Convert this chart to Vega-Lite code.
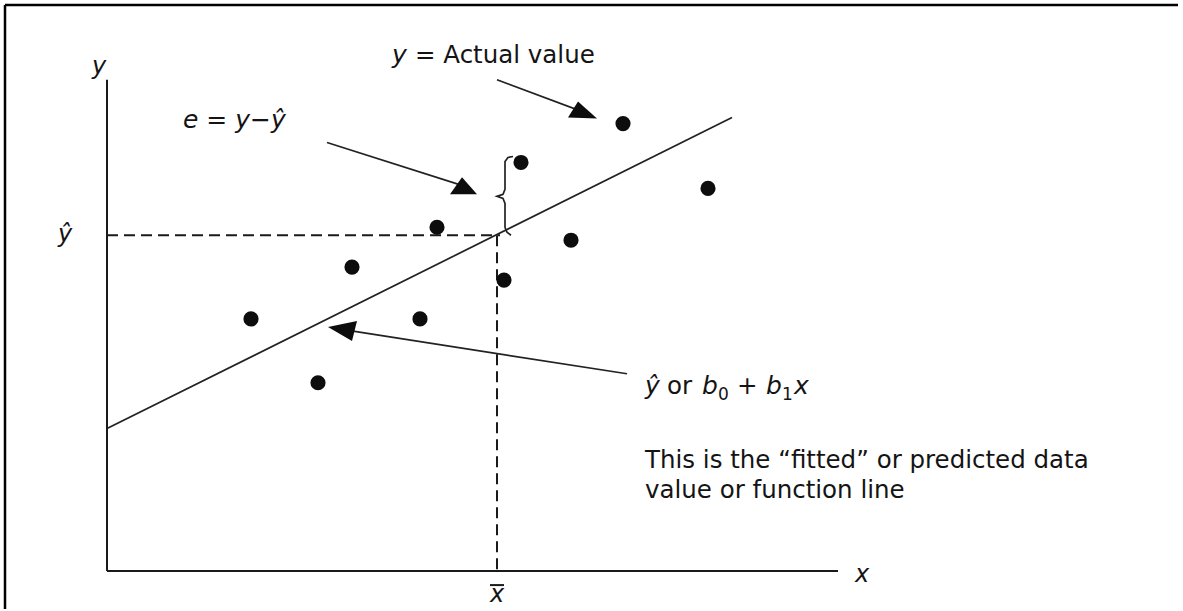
{
  "$schema": "https://vega.github.io/schema/vega-lite/v6.json",
  "width": 1183,
  "height": 611,
  "autosize": {"type": "fit", "contains": "padding"},
  "padding": 0,
  "background": "white",
  "config": {
    "view": {"stroke": null},
    "text": {"font": "DejaVu Sans", "color": "#141414"}
  },
  "datasets": {
    "segments": [
      {"part": "axis", "x": 0, "y": 9.86, "x2": 0, "y2": 0},
      {"part": "axis", "x": 0, "y": 0, "x2": 14.62, "y2": 0},
      {"part": "frame", "x": -2.04, "y": 11.36, "x2": 21.42, "y2": 11.36},
      {"part": "frame", "x": -2.04, "y": 11.36, "x2": -2.04, "y2": -0.76},
      {"part": "fit", "x": 0, "y": 2.86, "x2": 12.5, "y2": 9.1},
      {"part": "guide", "x": 0, "y": 6.74, "x2": 7.86, "y2": 6.74},
      {"part": "guide", "x": 7.8, "y": 6.74, "x2": 7.8, "y2": 0},
      {"part": "shaft", "x": 7.8, "y": 9.86, "x2": 9.56, "y2": 9.2},
      {"part": "shaft", "x": 4.4, "y": 8.6, "x2": 7.16, "y2": 7.72},
      {"part": "shaft", "x": 10.4, "y": 3.96, "x2": 4.76, "y2": 4.84},
      {"part": "bar", "x": 7.66, "y": -0.28, "x2": 7.94, "y2": -0.28}
    ],
    "observations": [
      {"x": 2.88, "y": 5.06},
      {"x": 4.22, "y": 3.78},
      {"x": 4.9, "y": 6.1},
      {"x": 6.26, "y": 5.06},
      {"x": 6.6, "y": 6.9},
      {"x": 7.94, "y": 5.84},
      {"x": 8.28, "y": 8.2},
      {"x": 9.28, "y": 6.64},
      {"x": 10.32, "y": 8.98},
      {"x": 12.02, "y": 7.68}
    ],
    "brace": [
      {"i": 0, "x": 8.12, "y": 8.32},
      {"i": 1, "x": 8.02, "y": 8.3},
      {"i": 2, "x": 7.96, "y": 8.22},
      {"i": 3, "x": 7.96, "y": 7.66},
      {"i": 4, "x": 7.92, "y": 7.56},
      {"i": 5, "x": 7.8, "y": 7.52},
      {"i": 6, "x": 7.92, "y": 7.48},
      {"i": 7, "x": 7.96, "y": 7.38},
      {"i": 8, "x": 7.96, "y": 6.9},
      {"i": 9, "x": 8.0, "y": 6.8},
      {"i": 10, "x": 8.08, "y": 6.74}
    ],
    "heads": [
      {"target": "actual", "x": 9.8, "y": 9.08},
      {"target": "residual", "x": 7.4, "y": 7.56},
      {"target": "fitted", "x": 4.42, "y": 4.9}
    ],
    "labels": [
      {"kind": "axis", "x": -0.16, "y": 9.98, "t": "y"},
      {"kind": "axis", "x": -0.84, "y": 6.6, "t": "ŷ"},
      {"kind": "axis", "x": 15.1, "y": -0.22, "t": "x"},
      {"kind": "axis", "x": 7.8, "y": -0.62, "t": "x"},
      {"kind": "math", "x": 1.52, "y": 8.9, "t": "e = y−ŷ"},
      {"kind": "math", "x": 5.7, "y": 10.2, "t": "y"},
      {"kind": "prose", "x": 6.16, "y": 10.2, "t": "= Actual value"},
      {"kind": "math", "x": 10.76, "y": 3.56, "t": "ŷ"},
      {"kind": "prose", "x": 11.2, "y": 3.56, "t": "or"},
      {"kind": "math", "x": 11.9, "y": 3.56, "t": "b"},
      {"kind": "sub", "x": 12.22, "y": 3.44, "t": "0"},
      {"kind": "prose", "x": 12.6, "y": 3.56, "t": "+"},
      {"kind": "math", "x": 13.18, "y": 3.56, "t": "b"},
      {"kind": "sub", "x": 13.5, "y": 3.44, "t": "1"},
      {"kind": "math", "x": 13.74, "y": 3.56, "t": "x"},
      {"kind": "prose", "x": 10.76, "y": 2.06, "t": "This is the “fitted” or predicted data"},
      {"kind": "prose", "x": 10.76, "y": 1.46, "t": "value or function line"}
    ]
  },
  "encoding": {
    "x": {"field": "x", "type": "quantitative", "axis": null, "scale": {"domain": [-2.14, 21.52], "nice": false, "zero": false}},
    "y": {"field": "y", "type": "quantitative", "axis": null, "scale": {"domain": [-0.76, 11.46], "nice": false, "zero": false}}
  },
  "layer": [
    {
      "data": {"name": "segments"},
      "transform": [{"filter": "datum.part === 'frame'"}],
      "mark": {"type": "rule", "stroke": "#000", "strokeWidth": 2.5},
      "encoding": {"x2": {"field": "x2"}, "y2": {"field": "y2"}}
    },
    {
      "data": {"name": "segments"},
      "transform": [{"filter": "datum.part === 'axis' || datum.part === 'bar'"}],
      "mark": {"type": "rule", "stroke": "#1a1a1a", "strokeWidth": 2},
      "encoding": {"x2": {"field": "x2"}, "y2": {"field": "y2"}}
    },
    {
      "data": {"name": "segments"},
      "transform": [{"filter": "datum.part === 'fit' || datum.part === 'shaft'"}],
      "mark": {"type": "rule", "stroke": "#222", "strokeWidth": 1.7},
      "encoding": {"x2": {"field": "x2"}, "y2": {"field": "y2"}}
    },
    {
      "data": {"name": "segments"},
      "transform": [{"filter": "datum.part === 'guide'"}],
      "mark": {"type": "rule", "stroke": "#1a1a1a", "strokeWidth": 2, "strokeDash": [11, 6]},
      "encoding": {"x2": {"field": "x2"}, "y2": {"field": "y2"}}
    },
    {
      "data": {"name": "brace"},
      "mark": {"type": "line", "stroke": "#222", "strokeWidth": 1.7},
      "encoding": {"order": {"field": "i", "type": "quantitative"}}
    },
    {
      "data": {"name": "observations"},
      "mark": {"type": "circle", "size": 230, "color": "#0d0d0d", "opacity": 1}
    },
    {
      "data": {"name": "heads"},
      "transform": [{"filter": "datum.target === 'actual'"}],
      "mark": {"type": "point", "shape": "M0,0L-29,-1L-19,-17Z", "size": 4, "filled": true, "color": "#0d0d0d", "opacity": 1}
    },
    {
      "data": {"name": "heads"},
      "transform": [{"filter": "datum.target === 'residual'"}],
      "mark": {"type": "point", "shape": "M0,0L-27,0L-15,-17Z", "size": 4, "filled": true, "color": "#0d0d0d", "opacity": 1}
    },
    {
      "data": {"name": "heads"},
      "transform": [{"filter": "datum.target === 'fitted'"}],
      "mark": {"type": "point", "shape": "M0,0L29,-6L24,14Z", "size": 4, "filled": true, "color": "#0d0d0d", "opacity": 1}
    },
    {
      "data": {"name": "labels"},
      "transform": [{"filter": "datum.kind === 'axis'"}],
      "mark": {"type": "text", "align": "center", "baseline": "alphabetic", "fontSize": 24, "fontStyle": "italic"},
      "encoding": {"text": {"field": "t"}}
    },
    {
      "data": {"name": "labels"},
      "transform": [{"filter": "datum.kind === 'math'"}],
      "mark": {"type": "text", "align": "left", "baseline": "alphabetic", "fontSize": 25, "fontStyle": "italic"},
      "encoding": {"text": {"field": "t"}}
    },
    {
      "data": {"name": "labels"},
      "transform": [{"filter": "datum.kind === 'prose'"}],
      "mark": {"type": "text", "align": "left", "baseline": "alphabetic", "fontSize": 24.5},
      "encoding": {"text": {"field": "t"}}
    },
    {
      "data": {"name": "labels"},
      "transform": [{"filter": "datum.kind === 'sub'"}],
      "mark": {"type": "text", "align": "left", "baseline": "alphabetic", "fontSize": 17},
      "encoding": {"text": {"field": "t"}}
    }
  ]
}
